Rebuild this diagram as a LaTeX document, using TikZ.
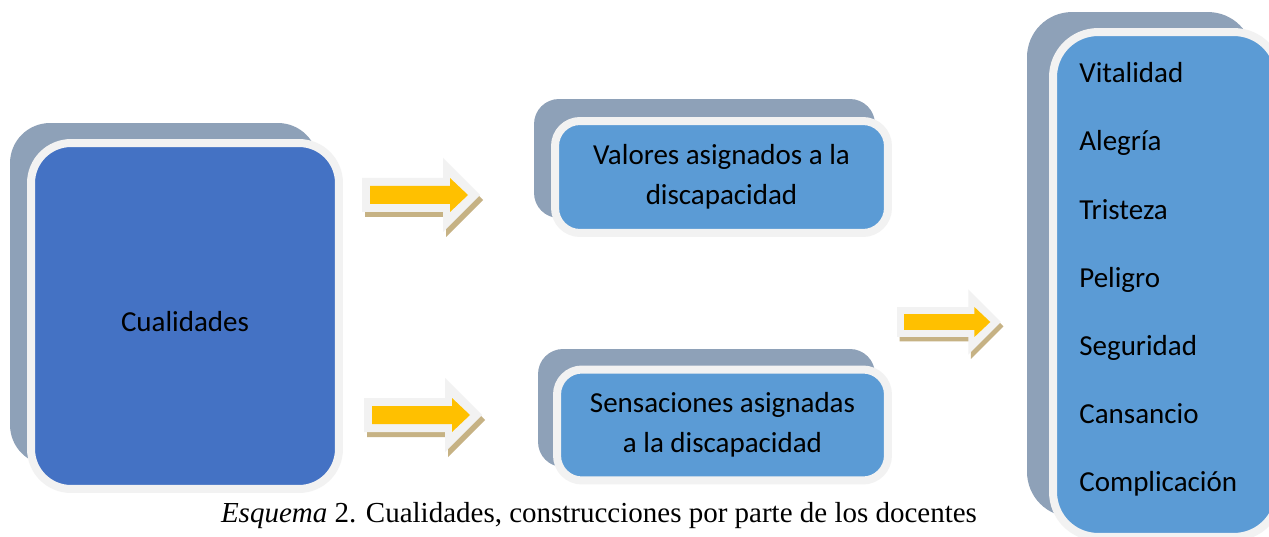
\documentclass[tikz,border=0pt]{standalone}
\usepackage{fontspec}
\setmainfont{Liberation Serif}
\newfontfamily\calibri{Carlito}
\definecolor{atras}{RGB}{142,161,184}
\definecolor{borde}{RGB}{242,242,242}
\definecolor{azulosc}{RGB}{68,114,196}
\definecolor{azulcl}{RGB}{91,155,213}
\definecolor{amarillo}{RGB}{255,192,0}
\definecolor{arena}{RGB}{198,178,132}
\tikzset{
  caja/.style={draw=borde, line width=0.16cm, rounded corners=#1, inner sep=0pt,
    align=center, font=\calibri\fontsize{16.5}{22.7}\selectfont},
  fondo/.style={fill=atras, rounded corners=#1, inner sep=0pt},
  texto/.style={anchor=base west, inner sep=0pt, font=\calibri\fontsize{16.5}{20}\selectfont},
  flecha/.pic={
    \fill[arena, shift={(3,5)}] (0,-17) -- (81,-17) -- (81,-37) -- (118,0) -- (81,37) -- (81,17) -- (0,17) -- cycle;
    \fill[borde] (0,-17) -- (81,-17) -- (81,-37) -- (118,0) -- (81,37) -- (81,17) -- (0,17) -- cycle;
    \fill[amarillo] (8,-9) -- (88,-9) -- (88,-17) -- (106,0) -- (88,17) -- (88,9) -- (8,9) -- cycle;
  }
}
\begin{document}
\begin{tikzpicture}[x=0.02cm, y=-0.02cm]
    \useasboundingbox[fill=white] (0,0) rectangle (1269,537);
    \clip (0,0) rectangle (1269,537);

    \node[fondo=0.8cm, minimum width=6.16cm, minimum height=6.84cm] (cualback) at (164,294) {};
    \node[caja=0.8cm, fill=azulosc, minimum width=6.16cm, minimum height=6.92cm, text height=0.64cm] (cual) at (185,316) {Cualidades};

    \node[fondo=0.5cm, minimum width=6.82cm, minimum height=2.38cm] (valback) at (704.5,158.5) {};
    \node[caja=0.5cm, fill=azulcl, minimum width=6.66cm, minimum height=2.24cm] (val) at (721.5,177) {Valores asignados a la\\discapacidad};

    \node[fondo=0.5cm, minimum width=6.74cm, minimum height=2.36cm] (senback) at (706.5,408) {};
    \node[caja=0.5cm, fill=azulcl, minimum width=6.62cm, minimum height=2.22cm] (sen) at (722.5,425) {Sensaciones asignadas\\a la discapacidad};

    \node[fondo=0.9cm, minimum width=4.52cm, minimum height=10.1cm] (listback) at (1140,264.5) {};
    \node[caja=0.9cm, fill=azulcl, minimum width=4.52cm, minimum height=10.1cm] (list) at (1166,284.5) {};
    \foreach \t [count=\i] in {Vitalidad, Alegría, Tristeza, Peligro, Seguridad, Cansancio, Complicación}
      \node[texto] (item\i) at (1079,{83+68*(\i-1)}) {\t};

    \pic (f1) at (362,195) {flecha};
    \pic (f2) at (364,415) {flecha};
    \pic[scale=0.88] (f3) at (897,322) {flecha};

    \node[anchor=base, inner sep=0pt, font=\fontsize{16.5}{19}\selectfont] (pie) at (599,522)
      {\textit{Esquema} 2. Cualidades, construcciones por parte de los docentes};
\end{tikzpicture}
\end{document}
